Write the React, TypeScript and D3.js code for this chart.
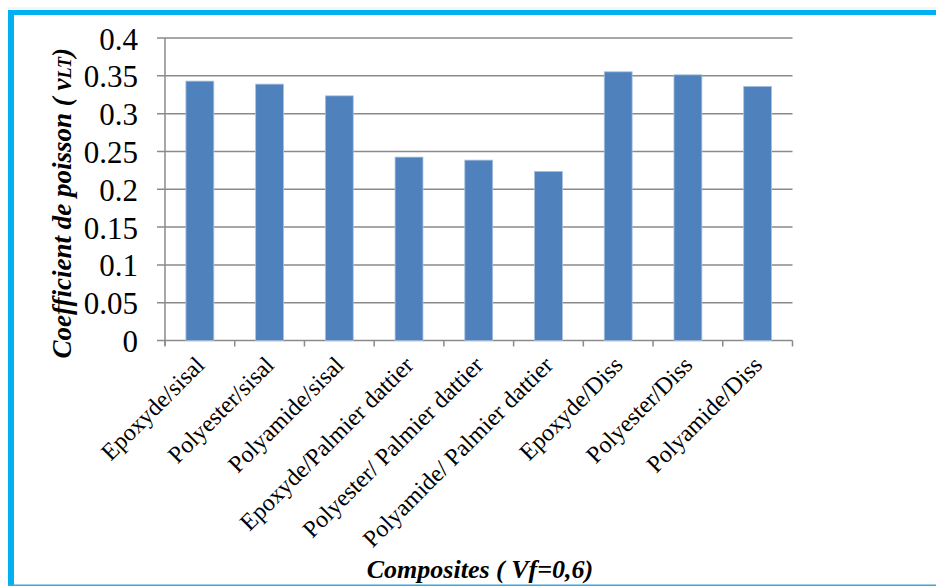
import React from "react";
import * as d3 from "d3";

const categories = [
  "Epoxyde/sisal",
  "Polyester/sisal",
  "Polyamide/sisal",
  "Epoxyde/Palmier dattier",
  "Polyester/ Palmier dattier",
  "Polyamide/ Palmier dattier",
  "Epoxyde/Diss",
  "Polyester/Diss",
  "Polyamide/Diss",
];
const values = [0.343, 0.339, 0.3235, 0.2425, 0.2385, 0.2235, 0.3553, 0.3513, 0.336];
const yTicks = [0, 0.05, 0.1, 0.15, 0.2, 0.25, 0.3, 0.35, 0.4];
const yTickLabels = ["0", "0.05", "0.1", "0.15", "0.2", "0.25", "0.3", "0.35", "0.4"];

export default function App() {
  const W = 936;
  const H = 586;
  const left = 165;
  const right = 792.5;
  const top = 38;
  const bottom = 340.5;

  const x = d3.scaleBand<string>().domain(categories).range([left, right]).paddingInner(0).paddingOuter(0);
  const y = d3.scaleLinear().domain([0, 0.4]).range([bottom, top]);
  const bw = x.bandwidth() * 0.4;
  const grid = "#8a8a8a";
  const serif = "Liberation Serif";

  return (
    <svg width={W} height={H} style={{ position: "absolute", left: 0, top: 0, background: "#fff" }}>
      <rect x={0} y={0} width={W} height={H} fill="#fff" />
      {/* frame */}
      <line x1={8} x2={W} y1={8} y2={8} stroke="#d8eef8" strokeWidth={1} />
      <rect x={8} y={10} width={W - 8} height={5} fill="#00B0F0" />
      <rect x={8} y={10} width={6} height={H - 10} fill="#00B0F0" />
      <line x1={8} x2={W} y1={585.2} y2={585.2} stroke="#3AA6DE" strokeWidth={1.5} />

      {/* gridlines */}
      {yTicks.map((t) => (
        <line key={"g" + t} x1={left - 8} x2={right} y1={y(t)} y2={y(t)} stroke={grid} strokeWidth={1.5} />
      ))}
      {/* y axis */}
      <line x1={left} x2={left} y1={top} y2={bottom + 5} stroke={grid} strokeWidth={1.5} />
      {/* x ticks */}
      {categories.map((c) => (
        <line key={"xt" + c} x1={x(c)!} x2={x(c)!} y1={bottom} y2={bottom + 6} stroke={grid} strokeWidth={1.5} />
      ))}
      <line x1={right} x2={right} y1={bottom} y2={bottom + 6} stroke={grid} strokeWidth={1.5} />

      {/* bars */}
      {categories.map((c, i) => (
        <rect
          key={"b" + c}
          x={x(c)! + (x.bandwidth() - bw) / 2}
          y={y(values[i])}
          width={bw}
          height={bottom - y(values[i])}
          fill="#4F81BD"
          stroke="#A9C0DE"
          strokeWidth={0.8}
        />
      ))}

      {/* y tick labels */}
      {yTicks.map((t, i) => (
        <text key={"yl" + t} x={138} y={y(t) + 11.5} textAnchor="end" style={{ fontFamily: serif }} fontSize={31} fill="#000">
          {yTickLabels[i]}
        </text>
      ))}

      {/* x category labels */}
      {categories.map((c) => {
        const cx = x(c)! + x.bandwidth() / 2 + 6;
        const cy = bottom + 26;
        return (
          <text
            key={"xl" + c}
            transform={`translate(${cx},${cy}) rotate(-45)`}
            textAnchor="end"
            style={{ fontFamily: serif }}
            fontSize={24}
            fill="#000"
          >
            {c}
          </text>
        );
      })}

      {/* y title */}
      <text
        transform={`translate(71,${(top + bottom) / 2 + 14}) rotate(-90)`}
        textAnchor="middle"
        style={{ fontFamily: serif }}
        fontSize={27}
        fontWeight="bold"
        fontStyle="italic"
        fill="#000"
      >
        Coefficient de poisson ( ν<tspan fontSize={18}>LT</tspan>)
      </text>

      {/* x title */}
      <text x={480} y={578} textAnchor="middle" style={{ fontFamily: serif }} fontSize={26} fontWeight="bold" fontStyle="italic" fill="#000">
        Composites ( Vf=0,6)
      </text>
    </svg>
  );
}
